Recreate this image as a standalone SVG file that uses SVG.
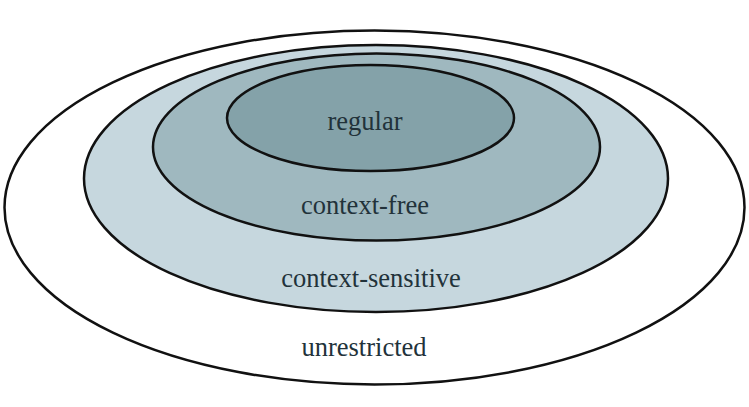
<svg xmlns="http://www.w3.org/2000/svg" width="749" height="407" viewBox="0 0 749 407">
<style>
.e{stroke:#111;stroke-width:2.5}
.t{font-family:"Liberation Serif","Times New Roman",serif;font-size:26.5px;fill:#22323a;text-anchor:middle}
</style>
<rect width="749" height="407" fill="#fff"/>
<g id="unrestricted">
<ellipse class="e" cx="374.5" cy="207.5" rx="370" ry="177" fill="#fff"/>
<text class="t" x="364" y="356">unrestricted</text>
</g>
<g id="context-sensitive">
<ellipse class="e" cx="376" cy="178.5" rx="292" ry="133.5" fill="#c6d7de"/>
<text class="t" x="371" y="287">context-sensitive</text>
</g>
<g id="context-free">
<ellipse class="e" cx="376.5" cy="147" rx="223.5" ry="93.5" fill="#9fb8bf"/>
<text class="t" x="365" y="214">context-free</text>
</g>
<g id="regular">
<ellipse class="e" cx="370.5" cy="118" rx="143.5" ry="53" fill="#84a2a9"/>
<text class="t" x="365" y="130">regular</text>
</g>
<g id="connectors"></g>
</svg>
